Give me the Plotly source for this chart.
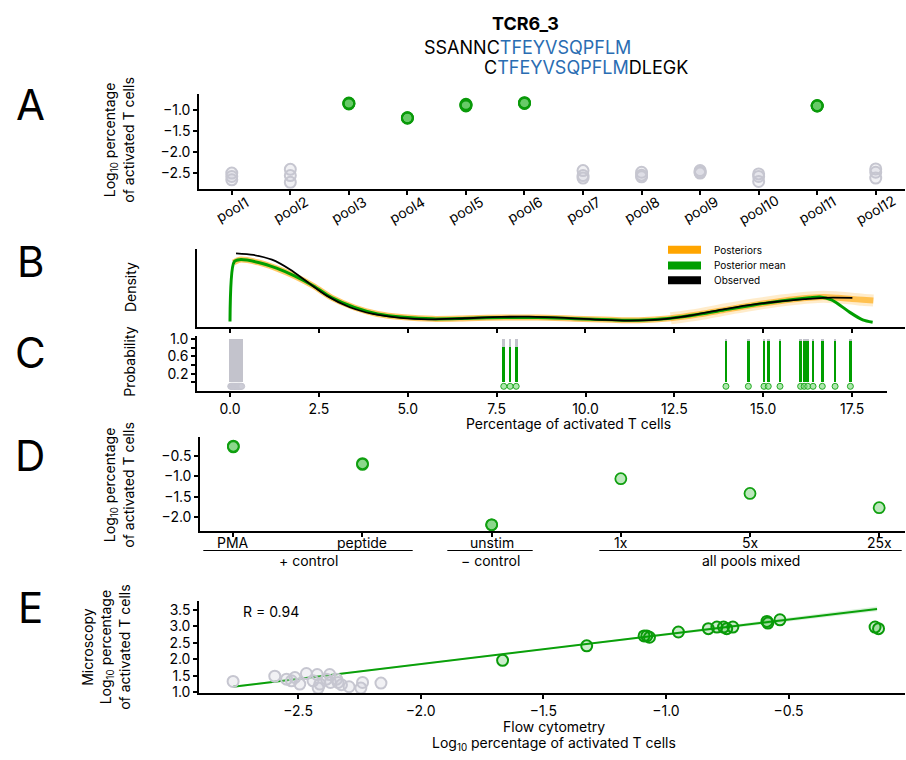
import plotly.graph_objects as go

W, H = 906, 760
def PX(x): return x / W
def PY(y): return 1 - y / H

GREEN = '#0a9a0a'
GREEN_FILL = 'rgba(0,165,0,0.26)'
GREEN_FILL_LIGHT = 'rgba(0,165,0,0.20)'
GREY = '#c6c6d0'
GREY_FILL = 'rgba(200,200,212,0.25)'
ORANGE = '#ffa500'
BLUE = '#2a6db2'
FONT = 'Inter'
FS = 14

# ---------------- data ----------------
title = 'TCR6_3'
seq_top_prefix = 'SSANNC'
seq_core = 'TFEYVSQPFLM'
seq_bot_prefix = 'C'
seq_bot_suffix = 'DLEGK'

# Panel A
pools = ['pool1', 'pool2', 'pool3', 'pool4', 'pool5', 'pool6',
         'pool7', 'pool8', 'pool9', 'pool10', 'pool11', 'pool12']
pool_log_pct = [
    [-2.50, -2.58, -2.66],
    [-2.41, -2.56, -2.72],
    [-0.83, -0.84, -0.85],
    [-1.18, -1.18, -1.19],
    [-0.86, -0.88, -0.90],
    [-0.82, -0.83, -0.84],
    [-2.44, -2.56, -2.62],
    [-2.48, -2.55, -2.59],
    [-2.44, -2.48, -2.50],
    [-2.52, -2.58, -2.70],
    [-0.89, -0.90, -0.90],
    [-2.40, -2.48, -2.62],
]
pool_positive = [False, False, True, True, True, True,
                 False, False, False, False, True, False]

# Panel B (densities)
dens_obs_x = [0.17, 0.66, 1.18, 1.69, 2.21, 2.73, 3.37, 4.02, 4.79, 5.57, 6.6, 7.63,
              8.41, 9.44, 10.47, 11.25, 12.28, 13.06, 13.83, 14.6, 15.38, 16.16, 16.67, 17.51]
dens_obs_y = [0.175, 0.171, 0.159, 0.134, 0.100, 0.067, 0.038, 0.021, 0.011, 0.007, 0.010, 0.0135,
              0.014, 0.011, 0.006, 0.004, 0.0085, 0.0185, 0.032, 0.0435, 0.052, 0.0585, 0.062, 0.062]
dens_mean_x = [0.0, 0.12, 0.27, 0.8, 1.31, 1.83, 2.35, 2.86, 3.5, 4.15, 4.9, 5.7, 6.72, 7.75,
               8.65, 9.7, 10.73, 11.5, 12.4, 13.2, 13.96, 14.74, 15.5, 16.3, 16.6, 16.92,
               17.18, 17.44, 17.8, 18.08]
dens_mean_y = [0.002, 0.154, 0.159, 0.152, 0.1375, 0.117, 0.092, 0.0625, 0.0375, 0.021, 0.0125,
               0.0085, 0.010, 0.012, 0.012, 0.009, 0.006, 0.005, 0.010, 0.020, 0.032, 0.044,
               0.054, 0.062, 0.064, 0.057, 0.042, 0.025, 0.006, 0.0]
dens_post_x = [0.1, 0.27, 0.8, 1.31, 1.83, 2.35, 2.86, 3.5, 4.15, 4.9, 5.7, 6.72, 7.75,
               8.65, 9.7, 10.73, 11.5, 12.4, 13.2, 13.96, 14.74, 15.5, 16.3, 16.7, 17.1,
               17.5, 17.8, 18.1]
dens_post_y = [0.152, 0.159, 0.152, 0.137, 0.117, 0.092, 0.0625, 0.0375, 0.021, 0.0125,
               0.0085, 0.010, 0.012, 0.012, 0.009, 0.006, 0.005, 0.010, 0.020, 0.032, 0.044,
               0.054, 0.062, 0.064, 0.062, 0.059, 0.057, 0.055]
dens_post_hump_x = [12.4, 13.2, 13.96, 14.74, 15.5, 16.3, 16.7, 17.1, 17.5, 17.8, 18.1]
dens_post_hump_y = [0.010, 0.020, 0.033, 0.045, 0.055, 0.063, 0.065, 0.063, 0.060, 0.057, 0.055]

# Panel C
neg_pct = [0.02, 0.035, 0.05, 0.065, 0.08, 0.095, 0.11, 0.125, 0.14, 0.155, 0.17,
           0.185, 0.2, 0.215, 0.23, 0.245, 0.26, 0.275, 0.29, 0.31, 0.33]
neg_prob = [0.0, 0.0, 0.0, 0.0, 0.0, 0.0, 0.0, 0.0, 0.0, 0.0, 0.0,
            0.0, 0.0, 0.0, 0.0, 0.0, 0.0, 0.0, 0.0, 0.0, 0.0]
pos_pct = [7.7, 7.88, 8.05, 13.95, 14.58, 15.02, 15.14, 15.47, 16.05, 16.15,
           16.25, 16.4, 16.66, 17.02, 17.45]
pos_prob = [0.81, 0.81, 0.81, 0.96, 0.96, 0.96, 0.96, 0.96, 0.96, 0.96,
            0.96, 0.96, 0.96, 0.96, 0.96]

# Panel D
ctrl_labels = ['PMA', 'peptide', 'unstim', '1x', '5x', '25x']
ctrl_log_pct = [[-0.26, -0.28], [-0.69, -0.71], [-2.19, -2.19], [-1.06], [-1.42], [-1.77]]
ctrl_groups = ['+ control', '\u2212 control', 'all pools mixed']

# Panel E
flow_neg = [-2.765, -2.595, -2.547, -2.527, -2.513, -2.493, -2.466, -2.439, -2.422, -2.418,
            -2.411, -2.384, -2.371, -2.368, -2.343, -2.337, -2.323, -2.292, -2.244, -2.237, -2.162]
micro_neg = [1.33, 1.49, 1.40, 1.35, 1.45, 1.25, 1.57, 1.35, 1.54, 1.13,
             1.25, 1.40, 1.54, 1.30, 1.40, 1.30, 1.23, 1.17, 1.13, 1.30, 1.28]
flow_pos = [-1.666, -1.323, -1.089, -1.078, -1.067, -0.949, -0.827, -0.792, -0.765, -0.752,
            -0.727, -0.588, -0.584, -0.535, -0.147, -0.133]
micro_pos = [1.97, 2.41, 2.71, 2.71, 2.67, 2.83, 2.93, 2.98, 2.98, 2.93,
             2.98, 3.15, 3.10, 3.20, 2.98, 2.93]
fit_x = [-2.765, -1.45, -0.139]
fit_y = [1.167, 2.35, 3.53]
fit_lo = [1.14, 2.33, 3.46]
fit_hi = [1.20, 2.37, 3.60]
r_value = 0.94

# ---------------- figure ----------------
fig = go.Figure()

# Panel A
ax_g, ay_g, ax_p, ay_p = [], [], [], []
for i, vals in enumerate(pool_log_pct):
    for v in vals:
        if pool_positive[i]:
            ax_p.append(i); ay_p.append(v)
        else:
            ax_g.append(i); ay_g.append(v)
fig.add_trace(go.Scatter(x=ax_g, y=ay_g, mode='markers', xaxis='x', yaxis='y',
                         marker=dict(size=11, color=GREY_FILL, line=dict(color=GREY, width=2))))
fig.add_trace(go.Scatter(x=ax_p, y=ay_p, mode='markers', xaxis='x', yaxis='y',
                         marker=dict(size=11, color=GREEN_FILL, line=dict(color=GREEN, width=2))))

# Panel B
fig.add_trace(go.Scatter(x=dens_post_hump_x, y=dens_post_hump_y, mode='lines', xaxis='x2', yaxis='y2',
                         line=dict(color=ORANGE, width=12, shape='spline', smoothing=0.8),
                         opacity=0.2))
fig.add_trace(go.Scatter(x=dens_post_x, y=dens_post_y, mode='lines', xaxis='x2', yaxis='y2',
                         line=dict(color=ORANGE, width=6, shape='spline', smoothing=0.8),
                         opacity=0.6))
fig.add_trace(go.Scatter(x=dens_mean_x, y=dens_mean_y, mode='lines', xaxis='x2', yaxis='y2',
                         line=dict(color='#009e00', width=3, shape='spline', smoothing=0.8)))
fig.add_trace(go.Scatter(x=dens_obs_x, y=dens_obs_y, mode='lines', xaxis='x2', yaxis='y2',
                         line=dict(color='black', width=1.8, shape='spline', smoothing=0.8)))

# Panel C
all_pct = neg_pct + pos_pct
all_prob = neg_prob + pos_prob
fig.add_trace(go.Bar(x=all_pct, y=all_prob, base=0, width=0.075, xaxis='x3', yaxis='y3',
                     marker=dict(color='#009e00', line=dict(width=0))))
fig.add_trace(go.Bar(x=all_pct, y=[1 - p for p in all_prob], base=all_prob, width=0.075,
                     xaxis='x3', yaxis='y3',
                     marker=dict(color='#c3c3cc', line=dict(width=0))))
fig.add_trace(go.Scatter(x=neg_pct, y=[-0.09] * len(neg_pct), mode='markers', xaxis='x3', yaxis='y3',
                         marker=dict(size=6, color='rgba(205,205,215,0.5)', line=dict(color=GREY, width=1))))
fig.add_trace(go.Scatter(x=pos_pct, y=[-0.09] * len(pos_pct), mode='markers', xaxis='x3', yaxis='y3',
                         marker=dict(size=6, color='rgba(120,215,120,0.6)', line=dict(color='#22aa22', width=1))))

# Panel D
dx, dy = [], []
for i, vals in enumerate(ctrl_log_pct):
    for v in vals:
        dx.append(i); dy.append(v)
fig.add_trace(go.Scatter(x=dx, y=dy, mode='markers', xaxis='x4', yaxis='y4',
                         marker=dict(size=11, color=GREEN_FILL, line=dict(color='#11a011', width=1.8))))

# Panel E
fig.add_trace(go.Scatter(x=fit_x + fit_x[::-1], y=fit_hi + fit_lo[::-1], mode='lines', fill='toself',
                         fillcolor='rgba(0,160,0,0.15)', line=dict(width=0), xaxis='x5', yaxis='y5'))
fig.add_trace(go.Scatter(x=fit_x, y=fit_y, mode='lines', xaxis='x5', yaxis='y5',
                         line=dict(color='#0aa00a', width=2)))
fig.add_trace(go.Scatter(x=flow_neg, y=micro_neg, mode='markers', xaxis='x5', yaxis='y5',
                         marker=dict(size=11, color=GREY_FILL, line=dict(color=GREY, width=2))))
fig.add_trace(go.Scatter(x=flow_pos, y=micro_pos, mode='markers', xaxis='x5', yaxis='y5',
                         marker=dict(size=11, color=GREEN_FILL_LIGHT, line=dict(color=GREEN, width=2))))

# ---------------- axes ----------------
tickfont = dict(family=FONT, size=FS, color='black')
common = dict(showline=True, linecolor='black', linewidth=1.5, ticks='outside', ticklen=4,
              tickwidth=1.5, tickcolor='black', showgrid=False, zeroline=False, tickfont=tickfont)

layout_axes = dict(
    xaxis=dict(common, domain=[PX(199), PX(905)], range=[-0.56, 11.5], anchor='y',
               tickvals=list(range(len(pools))), showticklabels=False),
    yaxis=dict(common, domain=[PY(186), PY(90)], range=[-2.875, -0.625], anchor='x',
               tickvals=[-2.5, -2.0, -1.5, -1.0], tickformat='.1f'),
    xaxis2=dict(common, domain=[PX(197), PX(905)], range=[-0.928, 18.99], anchor='y2',
                tickvals=[0, 2.5, 5, 7.5, 10, 12.5, 15, 17.5], showticklabels=False),
    yaxis2=dict(common, domain=[PY(326.7), PY(247.7)], range=[-0.0125, 0.185], anchor='x2',
                ticks='', showticklabels=False),
    xaxis3=dict(common, domain=[PX(197), PX(887)], range=[-0.928, 18.48], anchor='y3',
                tickvals=[0, 2.5, 5, 7.5, 10, 12.5, 15, 17.5], tickformat='.1f'),
    yaxis3=dict(common, domain=[PY(391.7), PY(335.7)], range=[-0.198, 1.075], anchor='x3',
                tickvals=[0.2, 0.6, 1.0], tickformat='.1f',
                minor=dict(tickvals=[0.0, 0.4, 0.8], ticks='outside', ticklen=4, tickwidth=1.5,
                           tickcolor='black', showgrid=False)),
    xaxis4=dict(common, domain=[PX(200), PX(905)], range=[-0.258, 5.2], anchor='y4',
                tickvals=list(range(len(ctrl_labels))), showticklabels=False),
    yaxis4=dict(common, domain=[PY(534.3), PY(439)], range=[-2.345, -0.05], anchor='x4',
                tickvals=[-2.0, -1.5, -1.0, -0.5], tickformat='.1f'),
    xaxis5=dict(common, domain=[PX(199), PX(905)], range=[-2.904, -0.025], anchor='y5',
                tickvals=[-2.5, -2.0, -1.5, -1.0, -0.5], tickformat='.1f'),
    yaxis5=dict(common, domain=[PY(699.3), PY(605)], range=[0.97, 3.78], anchor='x5',
                tickvals=[1.0, 1.5, 2.0, 2.5, 3.0, 3.5], tickformat='.1f'),
)

# ---------------- annotations ----------------
ann = []
def text(x, y, s, size=FS, angle=0, xanchor='center', yanchor='middle', xref='paper', yref='paper', color='black'):
    ann.append(dict(x=x, y=y, xref=xref, yref=yref, text=s, showarrow=False, textangle=angle,
                    xanchor=xanchor, yanchor=yanchor, font=dict(family=FONT, size=size, color=color)))

# title and sequences
text(PX(525), PY(18), '<b>%s</b>' % title, size=18)
text(PX(422), PY(42), "%s<span style='color:%s'>%s</span>" % (seq_top_prefix, BLUE, seq_core),
     size=18, xanchor='left')
text(PX(482), PY(63), "%s<span style='color:%s'>%s</span>%s" % (seq_bot_prefix, BLUE, seq_core, seq_bot_suffix),
     size=18, xanchor='left')

# panel letters
for letter, yy in zip(['A', 'B', 'C', 'D', 'E'], [100, 260, 353, 457, 612]):
    text(PX(30), PY(yy), letter, size=42)

# pool labels (rotated, centred under their ticks)
for i, p in enumerate(pools):
    text(i, PY(207), p, angle=-30, xref='x')

# D category labels
for i, lab in enumerate(ctrl_labels):
    text(i, PY(546), lab, xref='x4')

# y-axis titles
ylab = 'Log<sub>10</sub> percentage<br>of activated T cells'
text(PX(119), PY(137), ylab, angle=-90)
text(PX(130), PY(286), 'Density', angle=-90)
text(PX(130), PY(362), 'Probability', angle=-90)
text(PX(119), PY(488), ylab, angle=-90)
text(PX(106), PY(653), 'Microscopy<br>' + ylab, angle=-90)

# x-axis titles
text(PX(568), PY(425), 'Percentage of activated T cells')
text(PX(554), PY(733), 'Flow cytometry')
text(PX(554), PY(750), 'Log<sub>10</sub> percentage of activated T cells')

# R value
text(PX(241), PY(616), 'R = %.2f' % r_value, xanchor='left')

# D group labels
group_spans = [(203.3, 412.7), (447.3, 532.7), (599.3, 901.7)]
shapes = []
for g, (x0, x1) in zip(ctrl_groups, group_spans):
    shapes.append(dict(type='line', xref='paper', yref='paper', x0=PX(x0), x1=PX(x1),
                       y0=PY(554), y1=PY(554), line=dict(color='black', width=1.2)))
    text(PX((x0 + x1) / 2), PY(564), g)

# B legend
legend_items = [('Posteriors', ORANGE, 248), ('Posterior mean', '#009e00', 264), ('Observed', 'black', 279)]
for lab, col, yy in legend_items:
    shapes.append(dict(type='rect', xref='paper', yref='paper', x0=PX(668), x1=PX(701),
                       y0=PY(yy + 4), y1=PY(yy - 4), fillcolor=col, line=dict(width=0)))
    text(PX(712), PY(yy), lab, size=10, xanchor='left')

fig.update_layout(
    width=W, height=H, autosize=False,
    margin=dict(l=0, r=0, t=0, b=0),
    paper_bgcolor='white', plot_bgcolor='white',
    showlegend=False, barmode='overlay', bargap=0,
    annotations=ann, shapes=shapes,
    font=dict(family=FONT, size=FS, color='black'),
    **layout_axes,
)

fig.write_html('out.html', config={'displayModeBar': False},
               post_script="document.body.style.margin='0';")
